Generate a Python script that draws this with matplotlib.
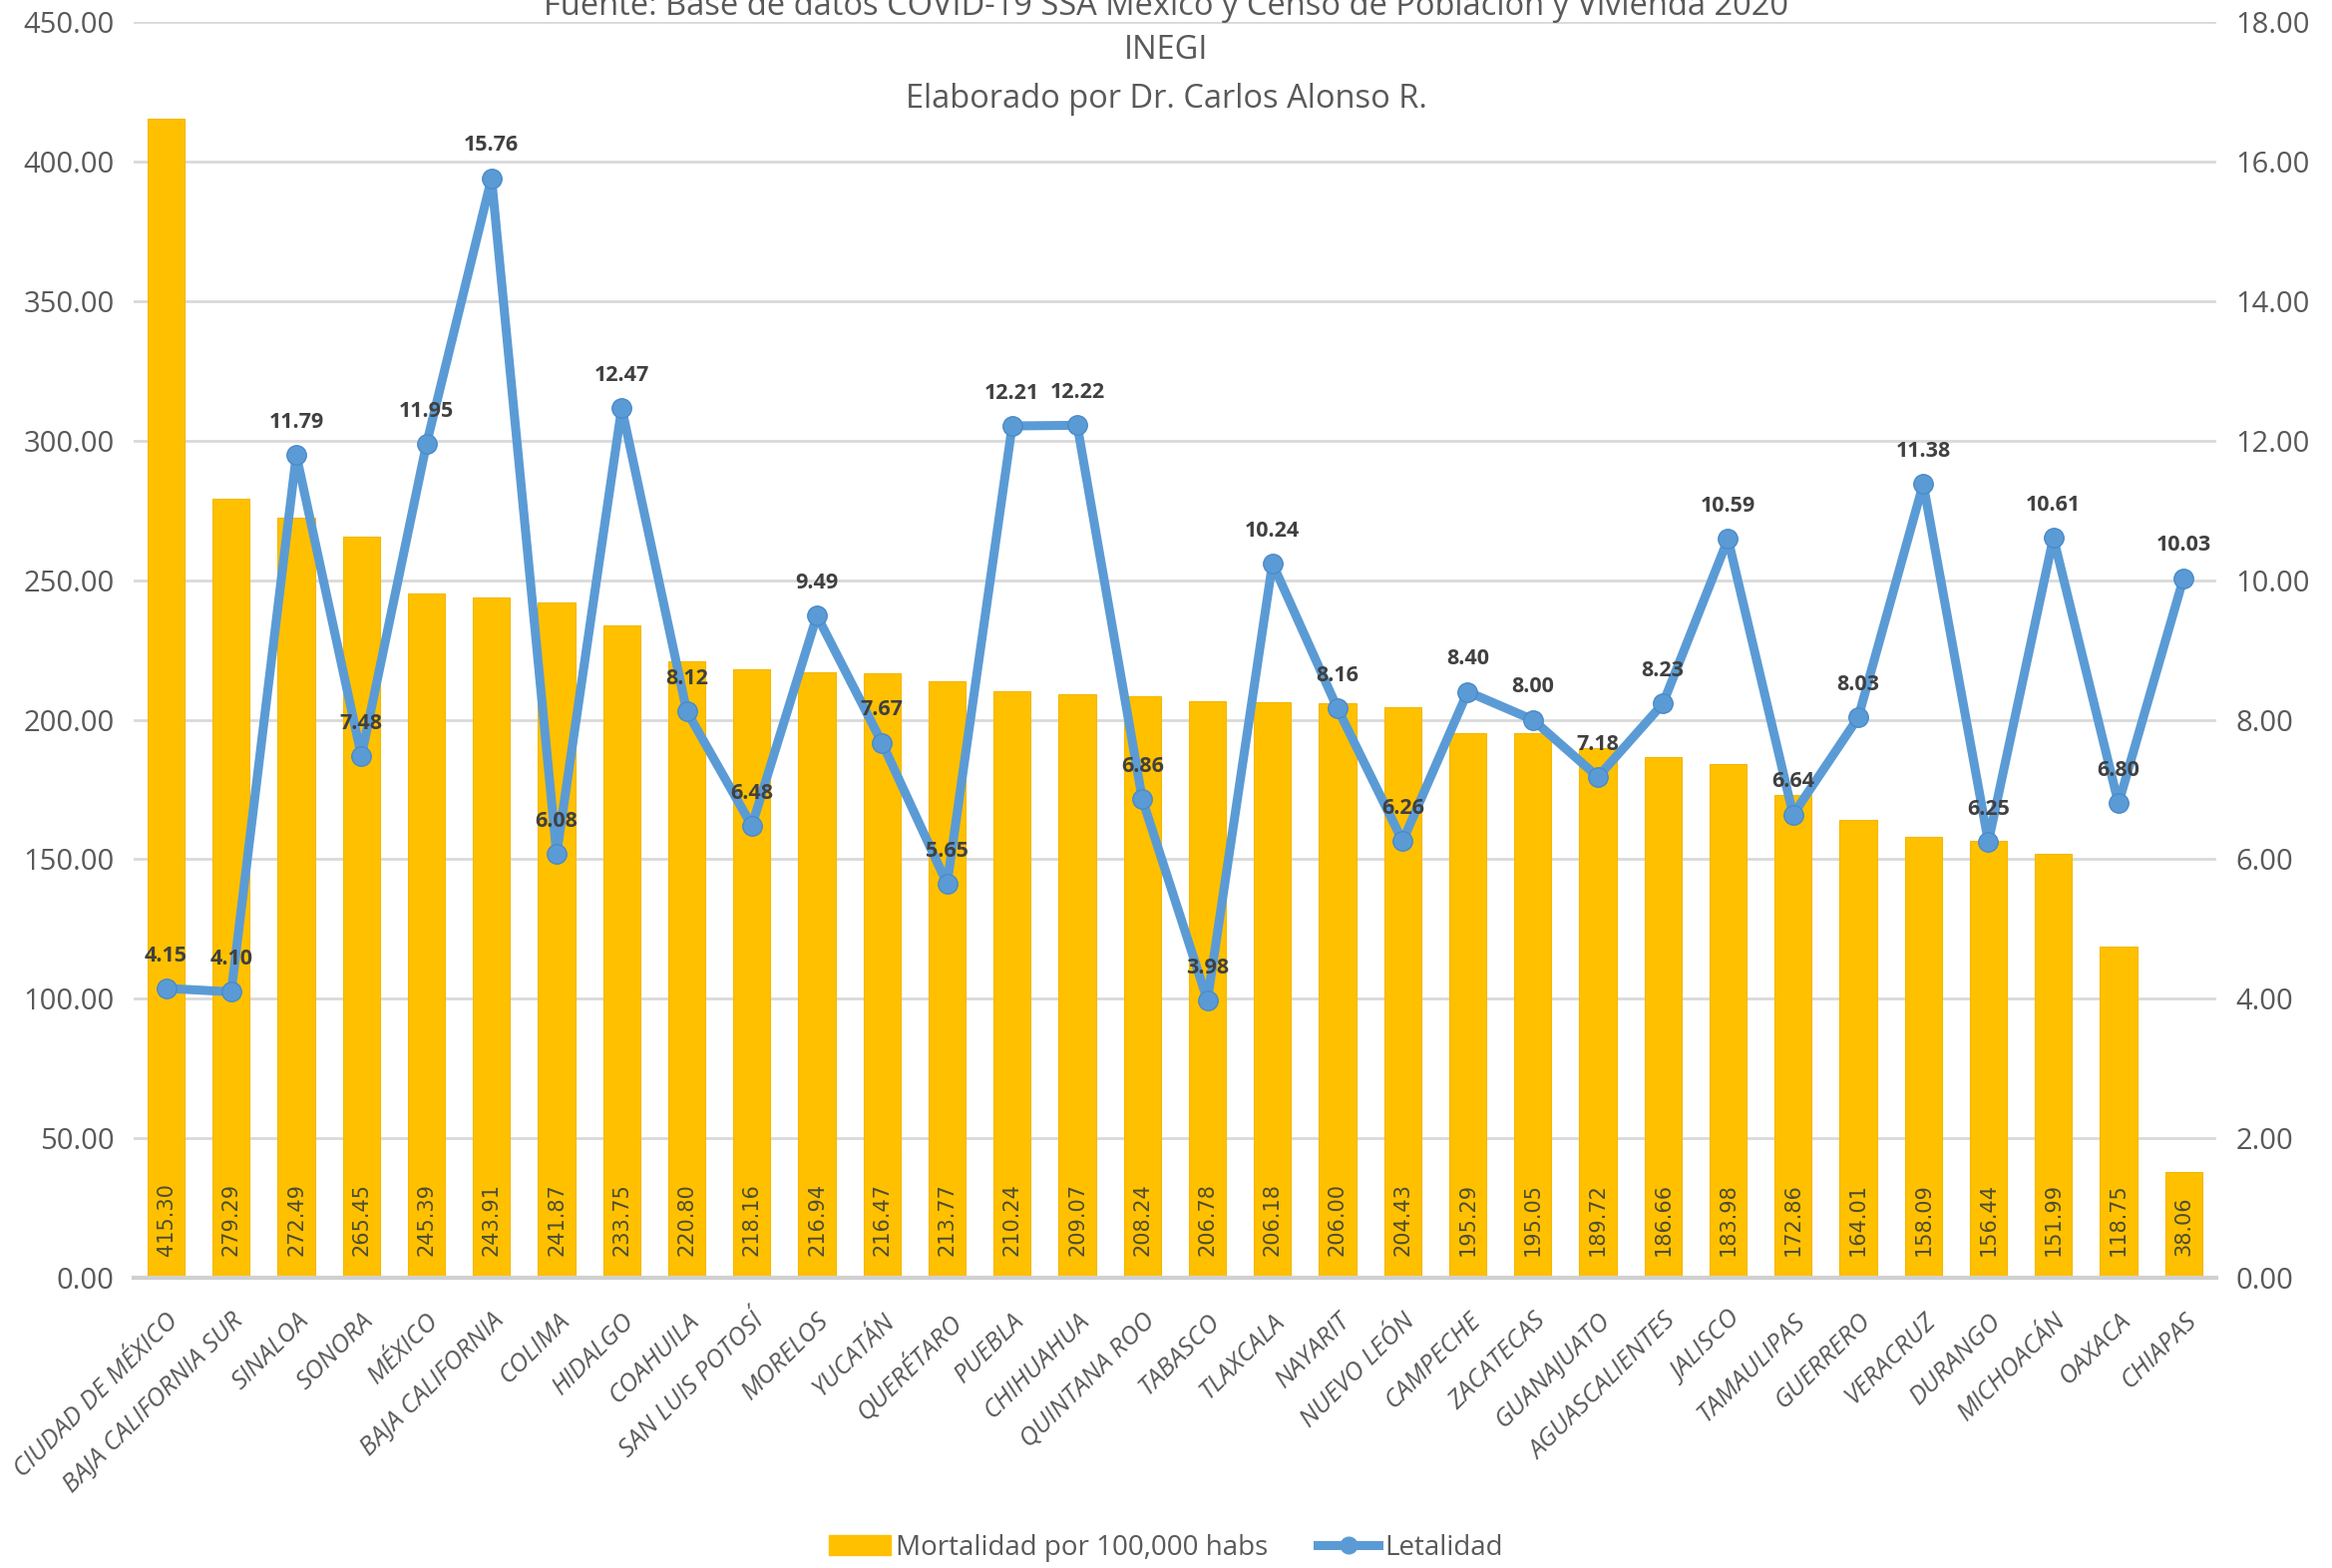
import numpy as np
import matplotlib
matplotlib.use("Agg")
import matplotlib.pyplot as plt
from matplotlib.lines import Line2D
from matplotlib.patches import Patch

estados = ["CIUDAD DE MÉXICO", "BAJA CALIFORNIA SUR", "SINALOA", "SONORA", "MÉXICO",
           "BAJA CALIFORNIA", "COLIMA", "HIDALGO", "COAHUILA", "SAN LUIS POTOSÍ",
           "MORELOS", "YUCATÁN", "QUERÉTARO", "PUEBLA", "CHIHUAHUA", "QUINTANA ROO",
           "TABASCO", "TLAXCALA", "NAYARIT", "NUEVO LEÓN", "CAMPECHE", "ZACATECAS",
           "GUANAJUATO", "AGUASCALIENTES", "JALISCO", "TAMAULIPAS", "GUERRERO",
           "VERACRUZ", "DURANGO", "MICHOACÁN", "OAXACA", "CHIAPAS"]

mortalidad = [415.30, 279.29, 272.49, 265.45, 245.39, 243.91, 241.87, 233.75, 220.80,
              218.16, 216.94, 216.47, 213.77, 210.24, 209.07, 208.24, 206.78, 206.18,
              206.00, 204.43, 195.29, 195.05, 189.72, 186.66, 183.98, 172.86, 164.01,
              158.09, 156.44, 151.99, 118.75, 38.06]

letalidad = [4.15, 4.10, 11.79, 7.48, 11.95, 15.76, 6.08, 12.47, 8.12, 6.48, 9.49, 7.67,
             5.65, 12.21, 12.22, 6.86, 3.98, 10.24, 8.16, 6.26, 8.40, 8.00, 7.18, 8.23,
             10.59, 6.64, 8.03, 11.38, 6.25, 10.61, 6.80, 10.03]

plt.rcParams['font.family'] = ['Open Sans', 'DejaVu Sans']
gris = '#595959'
amarillo = '#FFC000'
azul = '#5B9BD5'

fig = plt.figure(figsize=(23.38, 15.72), dpi=100)
ax = fig.add_axes([0.0573, 0.185, 0.893, 0.801])
ax2 = ax.twinx()

x = np.arange(len(estados))
ax.bar(x, mortalidad, width=0.57, color=amarillo, edgecolor='#F2B800', linewidth=0.8, zorder=2)
for xi, v in zip(x, mortalidad):
    ax.text(xi, 8, f"{v:.2f}", rotation=90, ha='center', va='bottom',
            fontsize=15, color='#4d4d33', family='DejaVu Sans', zorder=3)

ax.set_xlim(-0.5, len(estados) - 0.5)
ax.set_ylim(0, 450)
ax.set_yticks(np.arange(0, 451, 50))
ax.set_yticklabels([f"{t:.2f}" for t in np.arange(0, 451, 50)])
ax.grid(axis='y', color='#d9d9d9', linewidth=2, zorder=0)
ax.set_axisbelow(True)
ax.set_xticks(x)
ax.set_xticklabels(estados, rotation=45, ha='right', rotation_mode='anchor',
                   fontsize=18.5, style='italic', color=gris)
ax.tick_params(axis='x', length=0, pad=22)
ax.tick_params(axis='y', length=0, labelsize=21, labelcolor=gris, pad=14)

ax2.plot(x, letalidad, color=azul, linewidth=6.5, marker='o', markersize=14,
         markerfacecolor=azul, markeredgecolor='#4a8ac8', zorder=4)
for xi, v in zip(x, letalidad):
    ax2.annotate(f"{v:.2f}", (xi, v), xytext=(0, 16), textcoords='offset points',
                 ha='center', va='bottom', fontsize=15.5, fontweight='bold',
                 color='#404040', zorder=6)
ax2.set_ylim(0, 18)
ax2.set_yticks(np.arange(0, 18.1, 2))
ax2.set_yticklabels([f"{t:.2f}" for t in np.arange(0, 18.1, 2)])
ax2.tick_params(axis='y', length=0, labelsize=21, labelcolor=gris, pad=14)

for a in (ax, ax2):
    for s in a.spines.values():
        s.set_visible(False)
ax.spines['bottom'].set_visible(True)
ax.spines['bottom'].set_color('#d0d0d0')
ax.spines['bottom'].set_linewidth(3)

fig.text(0.5, 0.996, "Fuente: Base de datos COVID-19 SSA México y Censo de Población y Vivienda 2020",
         ha='center', va='center', fontsize=23.5, color=gris)
fig.text(0.5, 0.968, "INEGI", ha='center', va='center', fontsize=23.5, color=gris)
fig.text(0.5, 0.937, "Elaborado por Dr. Carlos Alonso R.", ha='center', va='center',
         fontsize=23.5, color=gris)

handles = [Patch(facecolor=amarillo, edgecolor=amarillo),
           Line2D([0], [0], color=azul, linewidth=6.5, marker='o', markersize=12)]
fig.legend(handles, ["Mortalidad por 100,000 habs", "Letalidad"], loc='center',
           bbox_to_anchor=(0.5, 0.013), ncol=2, frameon=False, fontsize=20,
           labelcolor=gris, handlelength=2.2, handletextpad=0.2, columnspacing=1.8)

fig.savefig("out.png", dpi=100)
